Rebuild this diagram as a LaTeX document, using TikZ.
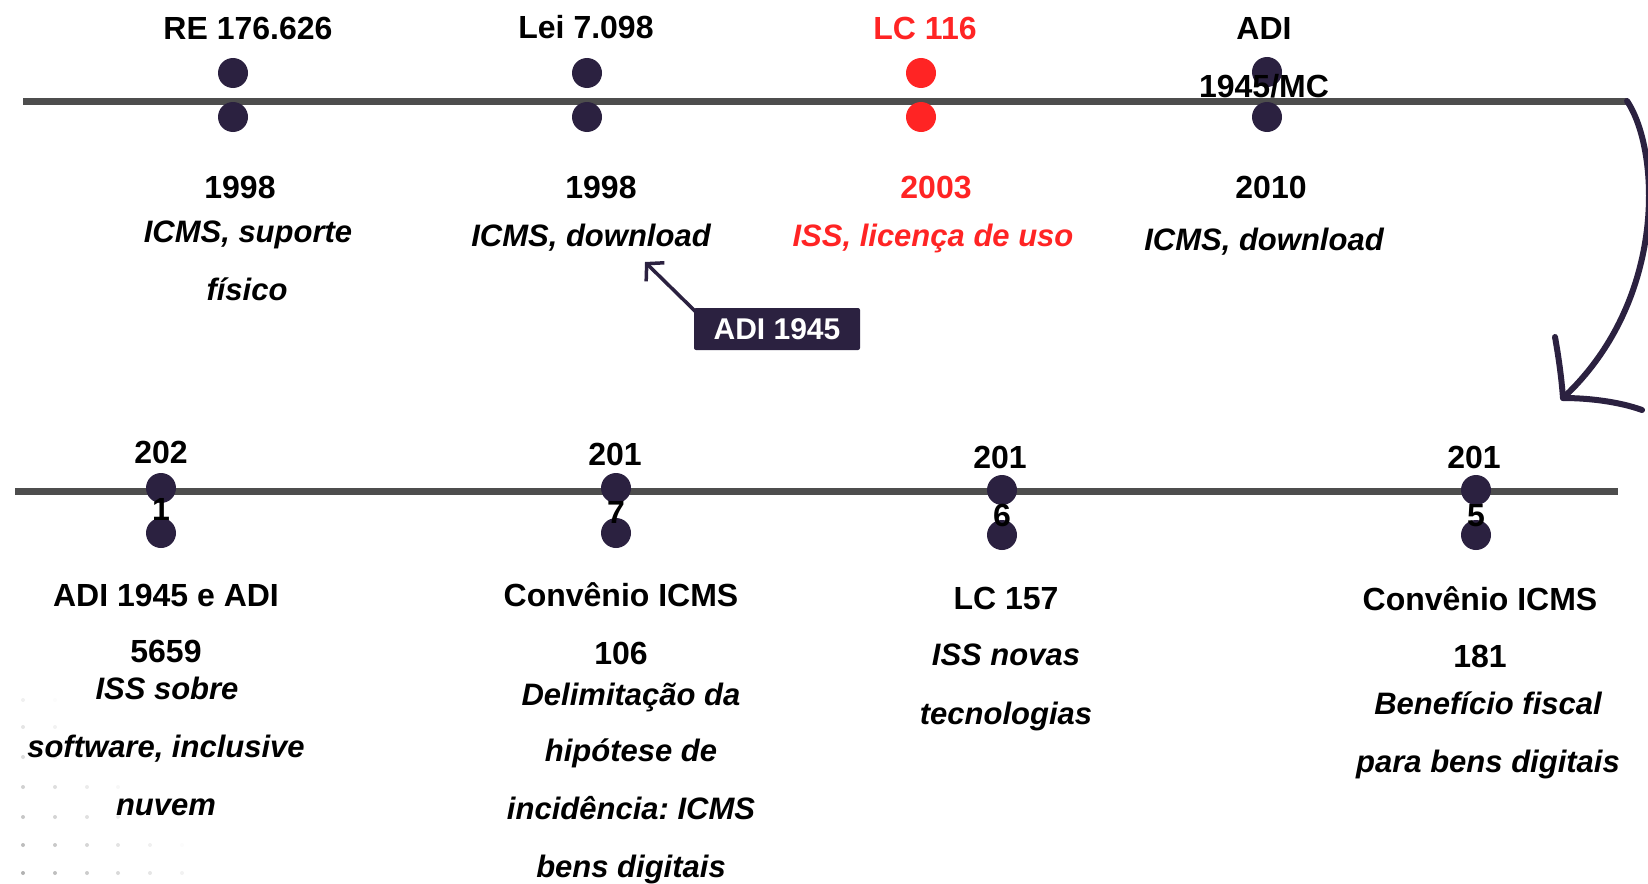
\documentclass[tikz,border=0pt]{standalone}
\usepackage{fontspec}
\setmainfont{Liberation Sans}
\usetikzlibrary{arrows.meta}
\definecolor{dotc}{HTML}{2B2140}
\definecolor{linec}{HTML}{4D4D4D}
\definecolor{redc}{HTML}{FF2424}
\frenchspacing
\begin{document}
\begin{tikzpicture}[x=1pt,y=-1pt,
  lbl/.style={font=\bfseries\fontsize{32}{38}\selectfont, anchor=base, inner sep=0pt},
  ital/.style={font=\bfseries\itshape\fontsize{31}{37}\selectfont, anchor=base, inner sep=0pt},
  dot/.style={circle, fill=dotc, minimum size=30pt, inner sep=0pt},
  reddot/.style={dot, fill=redc},
  timeline/.style={draw=linec, line width=7pt},
  curvearrow/.style={draw=dotc, line width=6pt, line cap=round},
  barb/.style={draw=dotc, line width=6pt, line cap=round, line join=round},
  ptr/.style={draw=dotc, line width=3.5pt, -{Straight Barb[length=12pt,width=26pt]}},
  adibox/.style={fill=dotc, text=white, font=\bfseries\fontsize{30}{36}\selectfont, minimum width=166pt, minimum height=42pt, inner sep=0pt, rounded corners=2pt}
]
\useasboundingbox (0,0) rectangle (1648,883);
\fill[white] (0,0) rectangle (1648,883);

% faint background dot grid (bottom left)
\foreach \i/\x in {0/23,1/55,2/87,3/118,4/150,5/182}{
  \foreach \j/\y in {0/873,1/845,2/817,3/787,4/757,5/727,6/700}{
    \pgfmathsetmacro{\op}{max(0,0.3-0.05*\i-0.04*\j)}
    \fill[black, opacity=\op] (\x,\y) circle[radius=2pt];
  }
}

% top timeline
\coordinate (tl0) at (23,101);
\coordinate (tl1) at (1627,101);
\draw[timeline] (tl0) -- (tl1);
\coordinate (arrtip) at (1563,398);
\draw[curvearrow] (tl1) .. controls (1660,150) and (1668,300) .. (arrtip);
% arrow head (hand-drawn barbs)
\coordinate (barbup) at (1555,337);
\coordinate (barbright) at (1642,410);
\draw[barb] (barbup) .. controls (1560,365) and (1562,385) .. (arrtip)
            .. controls (1590,398) and (1620,402) .. (barbright);

\node[dot] (a1) at (233,73) {};
\node[dot] (a1b) at (233,117) {};
\node[dot] (a2) at (587,73) {};
\node[dot] (a2b) at (587,117) {};
\node[reddot] (a3) at (921,73) {};
\node[reddot] (a3b) at (921,117) {};
\node[dot] (a4) at (1267,72) {};
\node[dot] (a4b) at (1267,117) {};

\node[lbl] (t1) at (248,40) {RE 176.626};
\node[lbl] (t2) at (586,38) {Lei 7.098};
\node[lbl, text=redc] (t3) at (925,40) {LC 116};
\node[lbl] (t4) at (1264,40) {ADI};
\node[lbl] (t4b) at (1264,97) {1945/MC};

\node[lbl] (y1) at (240,198) {1998};
\node[lbl] (y2) at (601,198) {1998};
\node[lbl, text=redc] (y3) at (936,198) {2003};
\node[lbl] (y4) at (1271,198) {2010};

\node[ital] (s1) at (248,242) {ICMS, suporte};
\node[ital] (s1b) at (247,300) {físico};
\node[ital] (s2) at (591,246) {ICMS, download};
\node[ital, text=redc] (s3) at (933,246) {ISS, licença de uso};
\node[ital] (s4) at (1264,250) {ICMS, download};

% ADI 1945 callout
\coordinate (ptip) at (645,262);
\draw[ptr] (697,313) -- (ptip);
\node[adibox] (adi) at (777,329) {ADI 1945};

% bottom timeline
\coordinate (bl0) at (15,491);
\coordinate (bl1) at (1618,491);
\draw[timeline] (bl0) -- (bl1);

\node[dot] (b1) at (161,488) {};
\node[dot] (b1b) at (161,533) {};
\node[dot] (b2) at (616,488) {};
\node[dot] (b2b) at (616,533) {};
\node[dot] (b3) at (1002,490) {};
\node[dot] (b3b) at (1002,535) {};
\node[dot] (b4) at (1476,490) {};
\node[dot] (b4b) at (1476,535) {};

\node[lbl] (u1) at (161,463) {202};
\node[lbl] (u1b) at (161,520) {1};
\node[lbl] (u2) at (615,465) {201};
\node[lbl] (u2b) at (616,523) {7};
\node[lbl] (u3) at (1000,468) {201};
\node[lbl] (u3b) at (1002,526) {6};
\node[lbl] (u4) at (1474,468) {201};
\node[lbl] (u4b) at (1476,526) {5};

\node[lbl] (c1) at (166,606) {ADI 1945 e ADI};
\node[lbl] (c1b) at (166,662) {5659};
\node[ital] (d1) at (167,699) {ISS sobre};
\node[ital] (d1b) at (166,757) {software, inclusive};
\node[ital] (d1c) at (166,815) {nuvem};

\node[lbl] (c2) at (621,606) {Convênio ICMS};
\node[lbl] (c2b) at (621,664) {106};
\node[ital] (d2) at (631,705) {Delimitação da};
\node[ital] (d2b) at (631,761) {hipótese de};
\node[ital] (d2c) at (631,819) {incidência: ICMS};
\node[ital] (d2d) at (631,877) {bens digitais};

\node[lbl] (c3) at (1006,609) {LC 157};
\node[ital] (d3) at (1006,665) {ISS novas};
\node[ital] (d3b) at (1006,724) {tecnologias};

\node[lbl] (c4) at (1480,610) {Convênio ICMS};
\node[lbl] (c4b) at (1480,667) {181};
\node[ital] (d4) at (1488,714) {Benefício fiscal};
\node[ital] (d4b) at (1488,772) {para bens digitais};
\end{tikzpicture}
\end{document}
